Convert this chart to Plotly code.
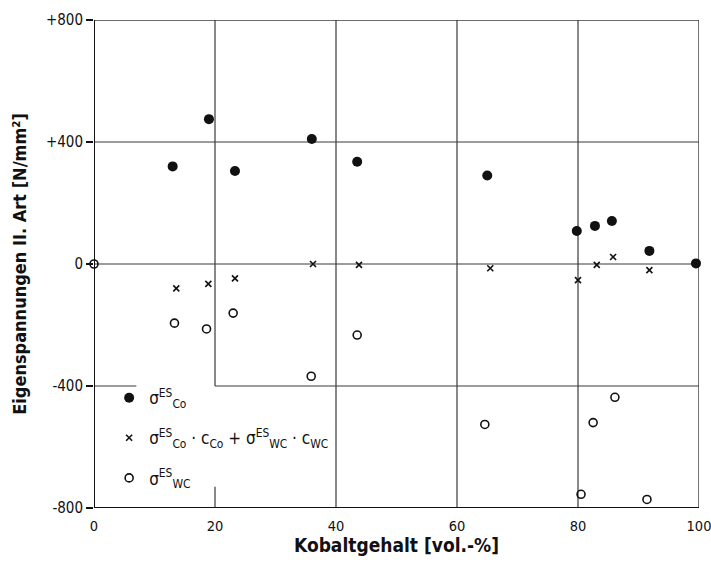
import plotly.graph_objects as go

# Data
co_x = [13, 19, 23.3, 36, 43.5, 65, 79.8, 82.8, 85.6, 91.8, 99.5]
co_y = [320, 475, 305, 410, 335, 290, 108, 125, 141, 43, 2]

mix_x = [13.6, 18.9, 23.3, 36.2, 43.8, 65.5, 80, 83.1, 85.8, 91.8]
mix_y = [-80, -65, -47, 0, -3, -14, -53, -3, 23, -20]

wc_x = [0, 13.3, 18.6, 23, 35.9, 43.5, 64.6, 80.5, 82.5, 86.1, 91.4]
wc_y = [0, -194, -213, -161, -368, -233, -526, -755, -520, -437, -772]

x_ticks = [0, 20, 40, 60, 80, 100]
y_ticks = [800, 400, 0, -400, -800]
y_tick_labels = ["+800", "+400", "0", "-400", "-800"]

FONT = "DejaVu Sans Condensed"
INK = "#111111"
GRID = "#3a3a3a"

fig = go.Figure()

fig.add_trace(go.Scatter(
    x=co_x, y=co_y, mode="markers", name="σ<sup>ES</sup><sub>Co</sub>",
    legendgroup="a", cliponaxis=False,
    marker=dict(symbol="circle", size=10, color=INK),
))
fig.add_trace(go.Scatter(
    x=mix_x, y=mix_y, mode="markers",
    name="σ<sup>ES</sup><sub>Co</sub> · c<sub>Co</sub> + σ<sup>ES</sup><sub>WC</sub> · c<sub>WC</sub>",
    legendgroup="b", cliponaxis=False,
    marker=dict(symbol="x-thin", size=6, color=INK, line=dict(width=1.6, color=INK)),
))
fig.add_trace(go.Scatter(
    x=wc_x, y=wc_y, mode="markers", name="σ<sup>ES</sup><sub>WC</sub>",
    legendgroup="c", cliponaxis=False,
    marker=dict(symbol="circle-open", size=8, color=INK, line=dict(width=1.6, color=INK)),
))

shapes = []
def seg(x0, y0, x1, y1, w=1.2, c=GRID):
    shapes.append(dict(type="line", xref="x", yref="y", x0=x0, y0=y0, x1=x1, y1=y1,
                       line=dict(color=c, width=w), layer="below"))

# full grid lines
for gx in [40, 60, 80]:
    seg(gx, -800, gx, 800)
for gy in [400, 0]:
    seg(0, gy, 100, gy)
# partial grid lines (legend area left free)
seg(20, -400, 20, 800)
seg(20, -800, 20, -730)
seg(20, -400, 100, -400)
seg(0, -400, 7, -400)
# frame
seg(0, 800, 100, 800, 1.4)
seg(100, -800, 100, 800, 1.4)
seg(0, -800, 0, 800, 2.0, INK)
seg(0, -800, 100, -800, 2.0, INK)

fig.update_layout(
    width=711, height=563,
    margin=dict(l=94, r=12, t=20, b=55),
    paper_bgcolor="white", plot_bgcolor="white",
    font=dict(family=FONT, size=15, color=INK),
    shapes=shapes,
    showlegend=True,
    legend=dict(x=0.025, y=0.262, xanchor="left", yanchor="top",
                bgcolor="rgba(0,0,0,0)", font=dict(family=FONT, size=17, color=INK),
                tracegroupgap=15, itemsizing="trace"),
    xaxis=dict(range=[0, 100], tickvals=x_ticks, ticks="outside", ticklen=5, tickcolor="rgba(0,0,0,0)",
               showgrid=False, zeroline=False, ticklabeloverflow="allow", automargin=False,
               showline=False, tickfont=dict(family=FONT, size=14.5, color=INK),
               title=dict(text="<b>Kobaltgehalt [vol.-%]</b>", font=dict(family=FONT, size=19, color=INK),
                          standoff=4)),
    yaxis=dict(range=[-800, 800], tickvals=y_ticks, ticktext=y_tick_labels, ticks="outside",
               ticklen=7, tickwidth=1.5, tickcolor=INK, showgrid=False, zeroline=False,
               showline=False, automargin=False, tickfont=dict(family=FONT, size=15, color=INK),
               title=dict(text="<b>Eigenspannungen II. Art [N/mm²]</b>",
                          font=dict(family=FONT, size=18, color=INK), standoff=14)),
)

fig.write_html("out.html")
